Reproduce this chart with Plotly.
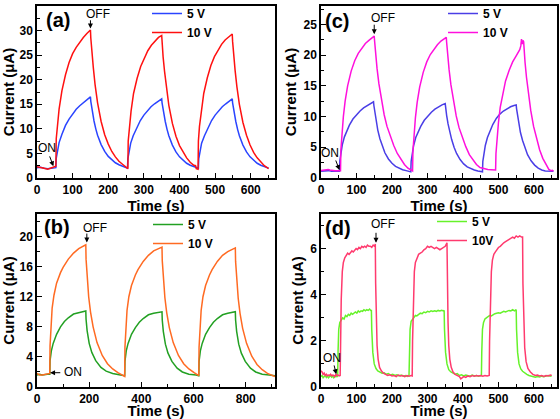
import plotly.graph_objects as go

# ---------------- Panel (a) ----------------
a5_t = [0, 10, 20, 30, 40, 50, 53, 54, 57, 62, 70, 80, 90, 100, 110, 120, 130, 140, 150,
        151, 155, 160, 165, 170, 180, 190, 200, 210, 220, 230, 240, 250, 254,
        255, 258, 263, 270, 280, 290, 300, 310, 320, 330, 340, 350,
        351, 355, 360, 365, 370, 380, 390, 400, 410, 420, 430, 440, 450, 453,
        454, 457, 462, 470, 480, 490, 500, 510, 520, 530, 540, 548,
        549, 553, 558, 563, 568, 578, 588, 598, 608, 618, 628, 638, 650]
a5_v = [2.1, 2.2, 2.0, 1.9, 2.0, 2.1, 2.1, 4.0, 5.6, 7.2, 8.9, 10.7, 12.0, 13.1, 14.0, 14.7, 15.3, 15.9, 16.5,
        15.6, 13.6, 11.6, 10.0, 8.7, 6.8, 5.4, 4.4, 3.7, 3.1, 2.7, 2.4, 2.1, 2.0,
        3.9, 5.5, 7.1, 8.6, 10.3, 11.7, 12.8, 13.7, 14.5, 15.1, 15.7, 16.1,
        15.3, 13.4, 11.5, 9.9, 8.6, 6.7, 5.3, 4.3, 3.6, 3.0, 2.6, 2.3, 2.1, 2.0,
        3.9, 5.5, 7.1, 8.6, 10.3, 11.7, 12.8, 13.7, 14.5, 15.1, 15.7, 16.1,
        15.3, 13.4, 11.5, 9.9, 8.6, 6.7, 5.3, 4.3, 3.6, 3.0, 2.6, 2.3, 2.0]

a10_t = [0, 10, 20, 30, 40, 50, 53, 54, 57, 62, 70, 80, 90, 100, 110, 120, 130, 140, 150,
         151, 154, 158, 163, 170, 180, 190, 200, 210, 220, 230, 240, 250, 255,
         256, 259, 264, 271, 281, 291, 301, 311, 321, 331, 341, 350,
         351, 354, 358, 363, 370, 380, 390, 400, 410, 420, 430, 440, 445, 447, 452,
         453, 456, 461, 468, 478, 488, 498, 508, 518, 528, 538, 548,
         549, 552, 556, 561, 568, 578, 588, 598, 608, 618, 628, 638, 650]
a10_v = [2.3, 2.2, 2.0, 1.8, 2.0, 2.3, 2.4, 8.0, 11.0, 14.0, 17.8, 21.0, 23.5, 25.3, 26.6, 27.7, 28.6, 29.4, 30.1,
         28.5, 25.5, 22.5, 19.0, 15.3, 11.5, 8.8, 6.9, 5.4, 4.3, 3.4, 2.8, 2.2, 1.9,
         7.5, 10.5, 13.6, 17.2, 20.3, 22.7, 24.5, 25.9, 27.0, 27.9, 28.6, 29.0,
         27.5, 24.6, 21.7, 18.4, 14.8, 11.1, 8.5, 6.6, 5.2, 4.1, 3.2, 2.6, 2.5, 1.9, 1.8,
         7.5, 10.5, 13.6, 17.2, 20.4, 22.9, 24.7, 26.1, 27.2, 28.1, 28.8, 29.3,
         27.8, 24.8, 21.9, 18.6, 15.0, 11.3, 8.7, 6.7, 5.2, 4.1, 3.2, 2.5, 1.9]

# ---------------- Panel (c) ----------------
c5_t = [0, 10, 20, 30, 40, 50, 52, 53, 56, 60, 66, 73, 80, 90, 100, 110, 120, 130, 140, 148,
        149, 152, 156, 160, 166, 173, 180, 190, 200, 210, 220, 230, 240, 250, 253,
        254, 257, 261, 267, 274, 281, 291, 301, 311, 321, 331, 341, 350,
        351, 354, 358, 362, 368, 375, 382, 392, 402, 412, 422, 432, 442, 452, 455,
        456, 459, 463, 469, 476, 484, 494, 504, 514, 524, 534, 544, 550,
        551, 554, 558, 562, 568, 575, 582, 592, 602, 612, 622, 632, 640, 655]
c5_v = [1.1, 1.15, 1.2, 1.1, 1.1, 1.1, 1.1, 2.8, 4.2, 5.4, 6.7, 7.8, 8.6, 9.6, 10.3, 10.9, 11.4, 11.8, 12.1, 12.4,
        11.8, 10.5, 9.0, 7.8, 6.4, 5.1, 4.1, 3.1, 2.4, 1.9, 1.6, 1.35, 1.2, 1.1, 1.0,
        2.7, 4.1, 5.3, 6.6, 7.6, 8.4, 9.4, 10.1, 10.7, 11.2, 11.6, 11.9, 12.1,
        11.5, 10.2, 8.8, 7.6, 6.3, 5.0, 4.0, 3.0, 2.3, 1.8, 1.5, 1.3, 1.15, 1.05, 1.0,
        2.7, 4.0, 5.3, 6.6, 7.7, 8.7, 9.7, 10.4, 10.9, 11.3, 11.6, 11.8, 11.9,
        11.3, 10.0, 8.6, 7.4, 6.1, 4.8, 3.8, 2.8, 2.1, 1.6, 1.3, 1.15, 1.1, 1.1]

c10_t = [0, 10, 20, 25, 30, 40, 50, 55, 56, 59, 63, 68, 75, 85, 95, 105, 115, 125, 135, 145, 150,
         151, 154, 158, 163, 170, 178, 186, 195, 205, 215, 225, 235, 245, 255, 258,
         259, 262, 266, 271, 278, 288, 298, 308, 318, 328, 338, 348, 353,
         354, 357, 361, 366, 373, 381, 389, 398, 408, 418, 428, 438, 448, 460, 470, 480, 492,
         493, 496, 500, 505, 512, 520, 530, 540, 550, 556, 560, 563, 565, 567, 569, 571,
         572, 575, 579, 584, 591, 599, 607, 616, 625, 634, 642, 648, 652, 655]
c10_v = [1.2, 1.25, 1.4, 1.3, 1.25, 1.2, 1.2, 1.2, 4.5, 7.5, 10.0, 12.5, 15.0, 17.4, 19.1, 20.3, 21.2, 21.9, 22.4, 22.9, 23.1,
         22.3, 20.2, 17.8, 15.4, 12.8, 10.3, 8.4, 6.8, 5.3, 4.0, 3.0, 2.2, 1.6, 1.3, 1.15,
         4.3, 7.3, 9.8, 12.3, 14.8, 17.2, 18.9, 20.1, 21.0, 21.7, 22.3, 22.7, 22.9,
         22.1, 20.0, 17.6, 15.2, 12.6, 10.1, 8.2, 6.6, 5.1, 3.8, 2.9, 2.2, 1.7, 1.5, 1.4, 1.35, 1.3,
         4.0, 6.5, 9.0, 11.5, 13.8, 15.8, 17.5, 18.9, 19.9, 20.5, 20.9, 21.5, 22.6, 21.8, 22.4, 22.2,
         21.0, 18.8, 16.4, 13.9, 11.0, 8.4, 6.4, 4.6, 3.2, 2.1, 1.4, 1.2, 1.25, 1.1]

# ---------------- Panel (b) ----------------
b5_t = [0, 10, 20, 30, 40, 49, 50, 55, 62, 75, 90, 105, 120, 140, 160, 187,
        188, 192, 200, 210, 225, 245, 265, 290, 320, 336,
        337, 342, 349, 362, 377, 392, 407, 427, 447, 479,
        480, 484, 492, 502, 517, 537, 557, 582, 610, 620,
        621, 626, 633, 646, 661, 676, 691, 711, 731, 760,
        761, 765, 773, 783, 798, 818, 838, 863, 890, 912]
b5_v = [1.6, 1.7, 1.6, 1.7, 1.7, 1.7, 3.5, 4.8, 5.8, 7.0, 8.0, 8.7, 9.2, 9.7, 9.9, 10.1,
        9.0, 7.5, 5.8, 4.6, 3.5, 2.6, 2.1, 1.8, 1.6, 1.5,
        3.4, 4.8, 5.8, 7.0, 7.9, 8.6, 9.1, 9.6, 9.8, 10.0,
        8.9, 7.4, 5.7, 4.5, 3.4, 2.5, 2.0, 1.7, 1.6, 1.5,
        3.4, 4.8, 5.8, 7.0, 7.9, 8.6, 9.1, 9.6, 9.8, 10.0,
        8.9, 7.4, 5.7, 4.5, 3.4, 2.5, 2.0, 1.7, 1.6, 1.5]

b10_t = [0, 10, 20, 30, 40, 49, 50, 53, 58, 65, 75, 90, 100, 120, 140, 160, 187,
         188, 192, 198, 205, 215, 230, 250, 270, 290, 310, 330, 336,
         337, 340, 345, 352, 362, 377, 387, 407, 427, 447, 479,
         480, 484, 490, 497, 507, 522, 542, 562, 582, 602, 620,
         621, 624, 629, 636, 646, 661, 671, 691, 711, 731, 760,
         761, 765, 771, 778, 788, 803, 823, 843, 863, 883, 912]
b10_v = [1.8, 1.6, 1.6, 1.7, 1.7, 1.8, 5.5, 8.0, 10.5, 12.2, 13.8, 15.2, 15.9, 17.0, 17.8, 18.4, 18.9,
         17.0, 14.5, 12.0, 10.0, 8.0, 5.9, 4.2, 3.1, 2.4, 1.9, 1.5, 1.4,
         5.3, 7.8, 10.2, 12.0, 13.5, 14.9, 15.6, 16.7, 17.5, 18.1, 18.6,
         16.8, 14.4, 11.9, 9.9, 7.9, 5.9, 4.2, 3.1, 2.4, 1.9, 1.5,
         5.3, 7.8, 10.2, 12.0, 13.5, 14.9, 15.6, 16.7, 17.5, 18.0, 18.5,
         16.7, 14.3, 11.8, 9.8, 7.8, 5.8, 4.1, 3.0, 2.3, 1.8, 1.4]

# ---------------- Panel (d) ----------------
d5_t = [0, 3, 6, 9, 12, 15, 18, 21, 24, 27, 30, 33, 36, 39, 42, 45, 47,
        48, 50, 53, 57, 61, 65, 69, 73, 77, 81, 85, 89, 93, 97, 101, 105, 109, 113, 117, 121, 125, 129, 133, 137, 141, 142,
        143, 146, 150, 155, 160, 166, 172, 178, 184, 190, 196, 202, 208, 214, 220, 226, 232, 238, 244, 248,
        249, 251, 254, 258, 262, 266, 270, 275, 280, 285, 290, 295, 300, 305, 310, 315, 320, 325, 330, 335, 340, 345, 347,
        348, 351, 355, 360, 366, 372, 378, 384, 390, 396, 402, 408, 414, 420, 426, 432, 438, 444, 450, 452,
        453, 455, 458, 462, 466, 470, 475, 480, 485, 490, 495, 500, 505, 510, 515, 520, 525, 530, 535, 540, 545, 550,
        551, 554, 558, 563, 568, 574, 580, 586, 592, 598, 604, 610, 616, 622, 628, 634, 640, 646, 650]
d5_v = [0.45, 0.5, 0.4, 0.45, 0.5, 0.42, 0.48, 0.4, 0.45, 0.5, 0.43, 0.47, 0.4, 0.45, 0.5, 0.45, 0.48,
        1.5, 2.5, 2.8, 2.9, 3.0, 2.95, 3.1, 3.05, 3.15, 3.1, 3.2, 3.15, 3.2, 3.25, 3.2, 3.3, 3.25, 3.3, 3.28, 3.35, 3.3, 3.35, 3.32, 3.38, 3.3, 3.35,
        2.5, 1.5, 1.0, 0.8, 0.7, 0.65, 0.6, 0.62, 0.55, 0.58, 0.52, 0.55, 0.5, 0.53, 0.48, 0.52, 0.47, 0.5, 0.46, 0.5,
        1.5, 2.5, 2.85, 2.95, 3.05, 3.1, 3.08, 3.15, 3.2, 3.18, 3.25, 3.22, 3.28, 3.25, 3.3, 3.27, 3.3, 3.28, 3.32, 3.3, 3.33, 3.3, 3.32,
        2.5, 1.5, 1.0, 0.75, 0.65, 0.6, 0.55, 0.58, 0.5, 0.53, 0.48, 0.52, 0.5, 0.47, 0.52, 0.48, 0.5, 0.47, 0.5, 0.48,
        1.5, 2.5, 2.8, 2.95, 3.0, 3.05, 3.1, 3.08, 3.15, 3.18, 3.2, 3.22, 3.2, 3.25, 3.28, 3.25, 3.3, 3.32, 3.3, 3.35, 3.3, 3.35,
        2.5, 1.5, 1.0, 0.78, 0.68, 0.6, 0.55, 0.5, 0.47, 0.45, 0.42, 0.45, 0.43, 0.47, 0.45, 0.48, 0.5, 0.47, 0.5]

d10_t = [0, 3, 6, 9, 12, 15, 18, 21, 24, 27, 30, 33, 36, 39, 42, 45, 48, 51, 54,
         55, 57, 60, 63, 67, 71, 75, 79, 83, 87, 91, 95, 99, 103, 107, 111, 115, 119, 123, 127, 131, 135, 139, 143, 147, 151, 153,
         154, 156, 158, 161, 165, 170, 176, 182, 188, 194, 200, 206, 212, 218, 224, 230, 236, 242, 248, 254, 257,
         258, 260, 263, 266, 270, 275, 280, 285, 290, 295, 300, 305, 310, 315, 320, 325, 330, 335, 340, 345, 350, 355,
         356, 358, 360, 363, 367, 372, 378, 384, 390, 394, 398, 402, 408, 414, 420, 426, 432, 438, 444, 450, 456, 462, 468, 474,
         475, 477, 480, 483, 487, 491, 495, 500, 505, 510, 515, 520, 525, 530, 535, 540, 545, 550, 555, 560, 565, 568,
         569, 571, 574, 578, 583, 590, 597, 604, 610, 616, 622, 628, 634, 640, 646, 650]
d10_v = [0.7, 0.65, 0.55, 0.6, 0.5, 0.55, 0.48, 0.52, 0.5, 0.55, 0.48, 0.52, 0.5, 0.45, 0.55, 0.5, 0.52, 0.48, 0.5,
         2.0, 3.8, 5.0, 5.4, 5.6, 5.7, 5.8, 5.75, 5.85, 5.9, 5.85, 5.95, 6.0, 5.95, 6.05, 6.0, 6.1, 6.05, 6.1, 6.05, 6.15, 6.1, 6.1, 6.05, 6.15, 6.1, 6.2,
         4.5, 2.8, 1.8, 1.2, 0.85, 0.7, 0.6, 0.55, 0.5, 0.53, 0.48, 0.5, 0.45, 0.52, 0.48, 0.5, 0.45, 0.5, 0.47, 0.5, 0.48,
         2.0, 3.8, 5.0, 5.4, 5.6, 5.75, 5.8, 5.85, 5.95, 6.0, 6.1, 6.05, 6.1, 6.05, 6.0, 6.05, 6.0, 5.95, 6.0, 6.05, 6.1, 6.25,
         4.5, 2.8, 1.8, 1.2, 0.85, 0.65, 0.55, 0.5, 0.45, 0.35, 0.4, 0.45, 0.42, 0.48, 0.45, 0.5, 0.47, 0.5, 0.48, 0.5, 0.47, 0.5, 0.48, 0.5,
         2.0, 3.8, 5.0, 5.5, 5.75, 5.85, 5.95, 6.05, 6.1, 6.2, 6.25, 6.3, 6.35, 6.4, 6.45, 6.5, 6.45, 6.55, 6.5, 6.55, 6.5, 6.5,
         4.5, 2.8, 1.7, 1.1, 0.8, 0.65, 0.55, 0.5, 0.52, 0.48, 0.5, 0.46, 0.5, 0.48, 0.52, 0.5]

legend_labels = {"a": ["5 V", "10 V"], "c": ["5 V", "10 V"], "b": ["5 V", "10 V"], "d": ["5 V", "10V"]}

FONT = "Liberation Sans, Arial, sans-serif"
LW = 1.5

fig = go.Figure()

def add(t, v, name, color, xa, ya, leg):
    fig.add_trace(go.Scatter(x=t, y=v, mode="lines", name=name,
                             line=dict(color=color, width=LW),
                             xaxis=xa, yaxis=ya, legend=leg))

add(a5_t, a5_v, legend_labels["a"][0], "#2a44ff", "x", "y", "legend")
add(a10_t, a10_v, legend_labels["a"][1], "#ff1010", "x", "y", "legend")
add(c5_t, c5_v, legend_labels["c"][0], "#4a3ee6", "x2", "y2", "legend2")
add(c10_t, c10_v, legend_labels["c"][1], "#ff10dd", "x2", "y2", "legend2")
add(b5_t, b5_v, legend_labels["b"][0], "#22a022", "x3", "y3", "legend3")
add(b10_t, b10_v, legend_labels["b"][1], "#ff6a22", "x3", "y3", "legend3")
add(d5_t, d5_v, legend_labels["d"][0], "#66f22a", "x4", "y4", "legend4")
add(d10_t, d10_v, legend_labels["d"][1], "#ff3a6e", "x4", "y4", "legend4")

tickfont = dict(family=FONT, size=12, color="black", weight="bold")
titlefont = dict(family=FONT, size=15, color="black", weight="bold")

def xaxis(domain, anchor, rng, dtick, minor):
    return dict(domain=domain, anchor=anchor, range=rng, dtick=dtick, tick0=0,
                showline=True, linecolor="black", linewidth=1.5, mirror=True,
                ticks="inside", ticklen=5, tickwidth=1.2, tickcolor="black",
                minor=dict(ticks="inside", ticklen=3, dtick=minor, tickcolor="black", tickwidth=1),
                showgrid=False, zeroline=False, tickfont=tickfont, automargin=True,
                title=dict(text="Time (s)", font=titlefont, standoff=0))

def yaxis(domain, anchor, rng, dtick, minor):
    return dict(domain=domain, anchor=anchor, range=rng, dtick=dtick, tick0=0,
                showline=True, linecolor="black", linewidth=1.5, mirror=True,
                ticks="inside", ticklen=5, tickwidth=1.2, tickcolor="black",
                minor=dict(ticks="inside", ticklen=3, dtick=minor, tickcolor="black", tickwidth=1),
                showgrid=False, zeroline=False, tickfont=tickfont, automargin=True,
                title=dict(text="Current (μA)", font=titlefont, standoff=3))

XL = [37/560, 275/560]
XR = [321/560, 557/560]
YT = [(419-178)/419, (419-6)/419]
YB = [(419-387)/419, (419-214)/419]

def legend(x, y):
    return dict(x=x, y=y, xanchor="left", yanchor="top", bgcolor="rgba(0,0,0,0)",
                font=dict(family=FONT, size=12, color="black", weight="bold"),
                itemwidth=30, tracegroupgap=0)

fig.update_layout(
    width=560, height=419, margin=dict(l=0, r=0, t=0, b=0, autoexpand=False),
    paper_bgcolor="white", plot_bgcolor="white",
    xaxis=xaxis(XL, "y", [0, 668], 100, 50),
    yaxis=yaxis(YT, "x", [0, 35], 5, 2.5),
    xaxis2=xaxis(XR, "y2", [0, 665], 100, 50),
    yaxis2=yaxis(YT, "x2", [0, 28], 5, 2.5),
    xaxis3=xaxis(XL, "y3", [0, 912], 200, 100),
    yaxis3=yaxis(YB, "x3", [0, 23], 4, 2),
    xaxis4=xaxis(XR, "y4", [0, 665], 100, 50),
    yaxis4=yaxis(YB, "x4", [0, 7.5], 2, 1),
    legend=legend(147/560, (419+1)/419),
    legend2=legend(443/560, (419+1)/419),
    legend3=legend(148/560, (419-210)/419),
    legend4=legend(432/560, (419-207)/419),
    showlegend=True,
)

ann = []
def label(text, xr, yr, x, y, size=20, bold=True):
    ann.append(dict(text=text, xref=xr, yref=yr, x=x, y=y, showarrow=False,
                    font=dict(family=FONT, size=size, color="black", weight="bold" if bold else "normal"),
                    xanchor="center", yanchor="middle"))

def arrow(xr, yr, x, y, ax, ay):
    ann.append(dict(text="", xref=xr, yref=yr, axref=xr, ayref=yr, x=x, y=y, ax=ax, ay=ay,
                    showarrow=True, arrowhead=2, arrowsize=1, arrowwidth=1, arrowcolor="black"))

# panel labels
label("(a)", "x", "y", 59, 32.2)
label("(c)", "x2", "y2", 45, 25.6)
label("(b)", "x3", "y3", 77, 21.3)
label("(d)", "x4", "y4", 48, 6.9)
# OFF / ON markers
label("OFF", "x", "y", 170, 33.4, 12, False)
arrow("x", "y", 150, 30.4, 150, 32.4)
label("ON", "x", "y", 28, 6.1, 12, False)
arrow("x", "y", 46, 2.4, 34, 4.7)

label("OFF", "x2", "y2", 175, 26.0, 12, False)
arrow("x2", "y2", 150, 23.4, 150, 25.2)
label("ON", "x2", "y2", 25, 4.0, 12, False)
arrow("x2", "y2", 52, 1.3, 40, 3.1)

label("OFF", "x3", "y3", 222, 21.1, 12, False)
arrow("x3", "y3", 191, 19.2, 191, 20.6)
label("ON", "x3", "y3", 137, 2.0, 12, False)
arrow("x3", "y3", 50, 1.9, 95, 1.9)

label("OFF", "x4", "y4", 175, 7.07, 12, False)
arrow("x4", "y4", 155, 6.25, 155, 6.75)
label("ON", "x4", "y4", 30, 1.26, 12, False)
arrow("x4", "y4", 43, 0.55, 36, 1.0)

fig.update_layout(annotations=ann)
fig.write_html("out.html", config={"displayModeBar": False},
               post_script="document.body.style.margin='0';document.body.style.overflow='hidden';")
